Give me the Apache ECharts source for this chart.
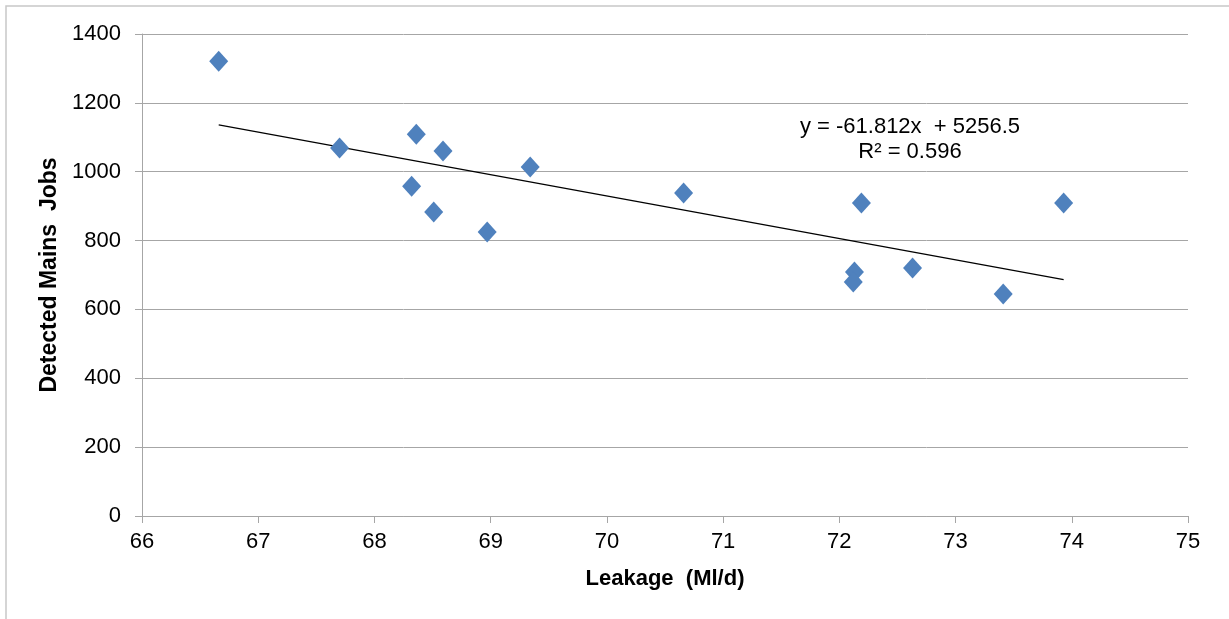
<!DOCTYPE html>
<html>
<head>
<meta charset="utf-8">
<script src="https://cdn.jsdelivr.net/npm/echarts@6/dist/echarts.min.js"></script>
<style>
  html, body { margin: 0; padding: 0; background: #fff; }
  #container { width: 1229px; height: 619px; }
</style>
</head>
<body>
<div id="container"></div>
<script>
  // leakage (Ml/d) vs detected mains jobs
  var leakage = [66.66, 67.70, 68.36, 68.59, 68.32, 68.51, 68.97, 69.34, 70.66, 72.19, 72.13, 72.12, 72.63, 73.41, 73.93];
  var jobs = [1321, 1069, 1109, 1060, 958, 883, 825, 1014, 938, 909, 709, 680, 720, 645, 909];
  // linear trend from the chart's label
  var slope = -61.812;
  var intercept = 5256.5;
  var eqText = 'y = -61.812x  + 5256.5';
  var r2Text = 'R² = 0.596';

  var points = leakage.map(function (x, i) { return [x, jobs[i]]; });
  var xMin = Math.min.apply(null, leakage);
  var xMax = Math.max.apply(null, leakage);
  var trend = [[xMin, slope * xMin + intercept], [xMax, slope * xMax + intercept]];

  var font = "'Liberation Sans', Arial, sans-serif";
  var gridColor = '#a6a6a6';

  var myChart = echarts.init(document.getElementById('container'));
  var option = {
    animation: false,
    backgroundColor: '#fff',
    textStyle: { fontFamily: font },
    grid: { left: 142, right: 41, top: 34, bottom: 103 },
    graphic: [
      {
        type: 'rect',
        shape: { x: 6, y: 6, width: 1240, height: 640 },
        style: { fill: 'none', stroke: '#c8c8c8', lineWidth: 1.5 },
        z: -1
      },
      {
        type: 'text',
        x: 910, y: 127,
        style: { text: eqText, fill: '#000', font: '22px ' + font, align: 'center', verticalAlign: 'middle' }
      },
      {
        type: 'text',
        x: 910, y: 152,
        style: { text: r2Text, fill: '#000', font: '22px ' + font, align: 'center', verticalAlign: 'middle' }
      }
    ],
    xAxis: {
      type: 'value',
      min: 66, max: 75, interval: 1,
      name: 'Leakage  (Ml/d)',
      nameLocation: 'middle',
      nameGap: 52,
      nameTextStyle: { fontSize: 22, fontWeight: 'bold', color: '#000', fontFamily: font },
      axisLine: { show: true, onZero: false, lineStyle: { color: gridColor, width: 1 } },
      axisTick: { show: true, length: 7, lineStyle: { color: gridColor } },
      axisLabel: { fontSize: 22, color: '#000', margin: 15, fontFamily: font },
      splitLine: { show: false }
    },
    yAxis: {
      type: 'value',
      min: 0, max: 1400, interval: 200,
      name: 'Detected Mains  Jobs',
      nameLocation: 'middle',
      nameGap: 74,
      nameTextStyle: { fontSize: 23, fontWeight: 'bold', color: '#000', fontFamily: font },
      axisLine: { show: true, lineStyle: { color: gridColor, width: 1 } },
      axisTick: { show: true, length: 7, lineStyle: { color: gridColor } },
      axisLabel: { fontSize: 22, color: '#000', margin: 21, fontFamily: font, formatter: function (v) { return String(v); } },
      splitLine: { show: true, lineStyle: { color: gridColor, width: 1 } }
    },
    series: [
      {
        name: 'trend',
        type: 'line',
        data: trend,
        symbol: 'none',
        lineStyle: { color: '#000', width: 1.2 },
        z: 1
      },
      {
        name: 'jobs',
        type: 'scatter',
        data: points,
        symbol: 'diamond',
        symbolSize: [19, 21],
        itemStyle: { color: '#4f81bd', opacity: 1 },
        z: 2
      }
    ]
  };
  myChart.setOption(option);
</script>
</body>
</html>
